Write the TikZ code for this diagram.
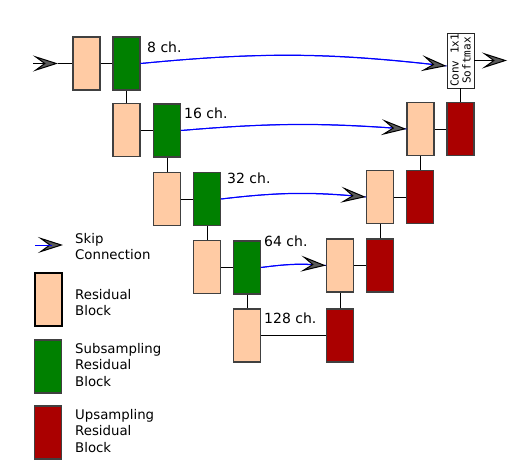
\documentclass[tikz,border=0pt]{standalone}
\usepackage{fontspec}
\setmainfont{DejaVu Sans}
\newfontfamily\monof{DejaVu Sans Mono}
\usetikzlibrary{arrows.meta}
\definecolor{peach}{HTML}{FFCBA4}
\definecolor{dgreen}{HTML}{008000}
\definecolor{dred}{HTML}{AA0000}
\definecolor{edge}{HTML}{404040}
\tikzset{
  blk/.style={draw=edge, line width=1.2pt, minimum width=27pt, minimum height=53pt, inner sep=0pt},
  resblk/.style={blk, fill=peach},
  subblk/.style={blk, fill=dgreen},
  upblk/.style={blk, fill=dred},
  conn/.style={draw=black, line width=1pt},
  tip/.style={-{Stealth[length=25pt,width=16pt,inset=11pt,color=black,fill=black!65,line width=1pt]}},
  skipline/.style={draw=blue, line width=1pt},
  skiparrow/.style={tip, draw=blue, line width=1pt},
  lbl/.style={font=\fontsize{14}{16.5}\selectfont, inner sep=0pt, anchor=base west},
  leglbl/.style={font=\fontsize{13.3}{16.5}\selectfont, inner sep=0pt, anchor=north west, align=left},
}
\begin{document}
\begin{tikzpicture}[x=1pt,y=-1pt]
\useasboundingbox (0,0) rectangle (508,460);
% encoder
\node[resblk] (r1) at (86.5,63.5) {};
\node[subblk] (s1) at (126.5,63.5) {};
\node[resblk] (r2) at (126.5,130) {};
\node[subblk] (s2) at (167,130.5) {};
\node[resblk] (r3) at (167,199) {};
\node[subblk] (s3) at (207,199) {};
\node[resblk] (r4) at (207,267) {};
\node[subblk] (s4) at (247,267.5) {};
\node[resblk] (r5) at (247,335.5) {};
% decoder
\node[upblk] (u5) at (340,335.5) {};
\node[resblk] (r4d) at (340,265.5) {};
\node[upblk] (u4) at (380,265.5) {};
\node[resblk] (r3d) at (380,197) {};
\node[upblk] (u3) at (420,197) {};
\node[resblk] (r2d) at (420.5,129) {};
\node[upblk] (u2) at (460.5,129) {};
\node[draw=black!85, line width=0.9pt, fill=white, minimum width=27pt, minimum height=55pt, inner sep=0pt] (conv) at (460.5,60.5) {};
\node[rotate=90, align=center, font=\monof\fontsize{11}{12}\selectfont, inner sep=0pt] (convtxt) at (conv.center) {Conv 1x1\\Softmax};
% input / output
\coordinate (inA) at (33,63.5);
\coordinate (inB) at (58,63.5);
\coordinate (outB) at (507,60.5);
\draw[tip, line width=1pt] (inA) -- (inB);
\draw[conn] (inB) -- (r1.west);
\draw[tip, line width=1pt] (conv.east |- outB) -- (outB);
% vertical / horizontal connections
\draw[conn] (r1.east) -- (s1.west);
\draw[conn] (s1.south) -- (r2.north);
\draw[conn] (r2.east) -- (r2.east -| s2.west);
\draw[conn] (s2.south) -- (r3.north);
\draw[conn] (r3.east) -- (s3.west);
\draw[conn] (s3.south) -- (r4.north);
\draw[conn] (r4.east) -- (r4.east -| s4.west);
\draw[conn] (s4.south) -- (s4.south |- r5.north);
\draw[conn] (r5.east) -- (u5.west);
\draw[conn] (u5.north) -- (r4d.south);
\draw[conn] (r4d.east) -- (u4.west);
\draw[conn] (u4.north) -- (r3d.south);
\draw[conn] (r3d.east) -- (u3.west);
\draw[conn] (u3.north) -- (u3.north -| r2d.south) -- (r2d.south);
\draw[conn] (r2d.east) -- (u2.west);
\draw[conn] (u2.north) -- (conv.south);
% skip connections
\draw[skipline] (s1.east) to[bend left=6] (conv.west |- 0,66);
\draw[skiparrow] (s1.east) to[bend left=6] (conv.west |- 0,66);
\draw[skipline] (s2.east) to[bend left=4.5] (r2d.west);
\draw[skiparrow] (s2.east) to[bend left=4.5] (r2d.west);
\draw[skipline] (s3.east) to[bend left=6] (r3d.west);
\draw[skiparrow] (s3.east) to[bend left=6] (r3d.west);
\draw[skipline] (s4.east) to[bend left=6] (r4d.west);
\draw[skiparrow] (s4.east) to[bend left=6] (r4d.west);
% channel labels
\node[lbl] (c8) at (147,52.5) {8 ch.};
\node[lbl] (c16) at (184,118) {16 ch.};
\node[lbl] (c32) at (227,183) {32 ch.};
\node[lbl] (c64) at (264,246) {64 ch.};
\node[lbl] (c128) at (264,323) {128 ch.};
% legend
\coordinate (lgA) at (38,245);
\coordinate (lgB) at (63,245);
\coordinate (lgC) at (35,245);
\draw[tip, line width=1pt] (lgA) -- (lgB);
\draw[skipline] (lgC) -- (52,245);
\node[leglbl] (lt1) at (75,233) {Skip\\Connection};
\node[resblk, draw=black] (lg1) at (48.5,299.5) {};
\node[leglbl] (lt2) at (75,289) {Residual\\Block};
\node[subblk] (lg2) at (48,366.5) {};
\node[leglbl] (lt3) at (75,343) {Subsampling\\Residual\\Block};
\node[upblk] (lg3) at (48,432.5) {};
\node[leglbl] (lt4) at (75,409) {Upsampling\\Residual\\Block};
\end{tikzpicture}
\end{document}
